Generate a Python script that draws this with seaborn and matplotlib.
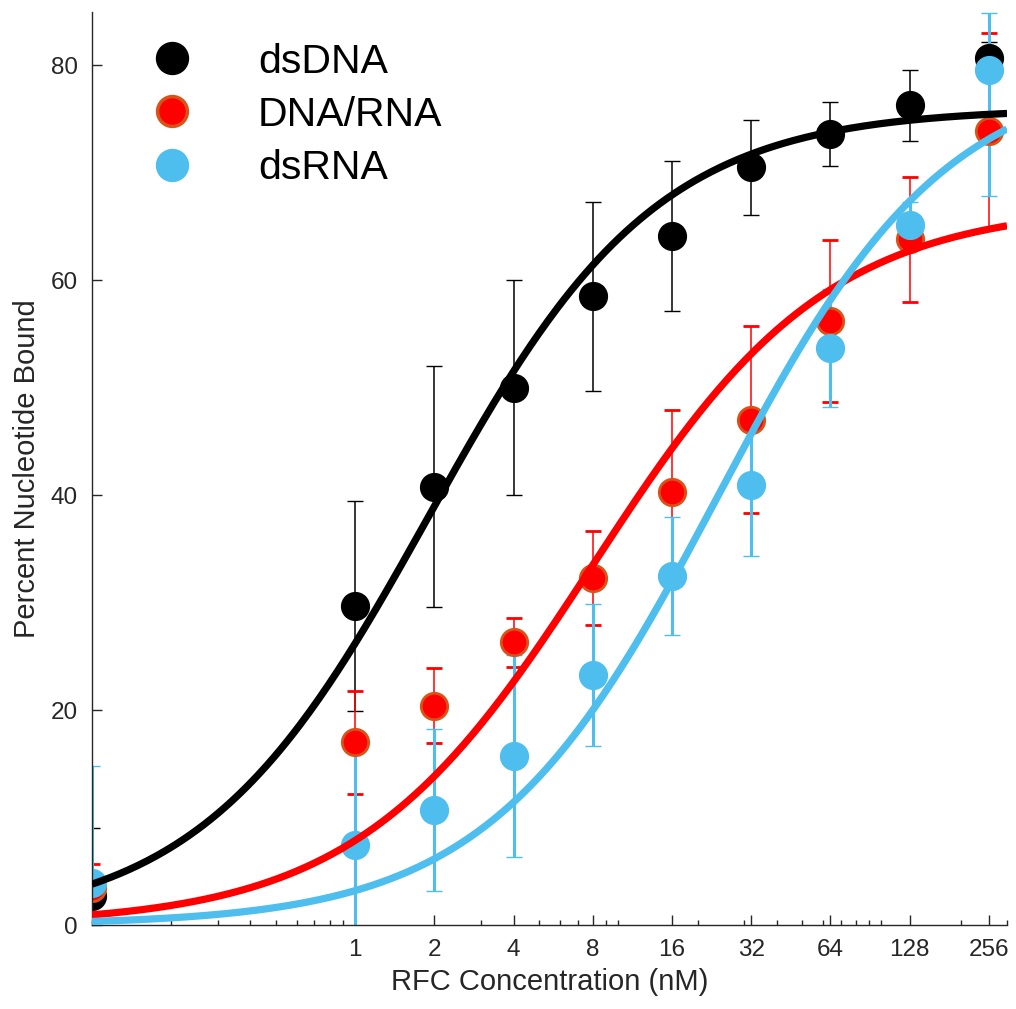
import numpy as np
import matplotlib
matplotlib.use("Agg")
import matplotlib.pyplot as plt
from matplotlib.lines import Line2D
from matplotlib.ticker import FixedLocator, FixedFormatter, LogLocator, NullFormatter
import seaborn as sns

# RFC titration; the no-protein control is drawn at the lower axis limit (0.1 nM)
conc_nM = [0.1, 1, 2, 4, 8, 16, 32, 64, 128, 256]
tick_values = [1, 2, 4, 8, 16, 32, 64, 128, 256]
tick_labels = ["1", "2", "4", "8", "16", "32", "64", "128", "256"]

dsdna_mean = [2.7, 29.7, 40.8, 50.0, 58.5, 64.1, 70.5, 73.6, 76.3, 80.7]
dsdna_err = [6.3, 9.8, 11.2, 10.0, 8.8, 7.0, 4.4, 3.0, 3.3, 1.5]

hybrid_mean = [3.4, 17.0, 20.4, 26.3, 32.3, 40.3, 47.0, 56.2, 63.8, 73.9]
hybrid_err = [2.3, 4.8, 3.5, 2.3, 4.4, 7.6, 8.7, 7.5, 5.8, 9.1]

dsrna_mean = [3.9, 7.4, 10.7, 15.7, 23.3, 32.5, 40.9, 53.7, 65.1, 79.6]
dsrna_err_lo = [10.9, 8.8, 7.5, 9.4, 6.6, 5.5, 6.6, 5.5, 2.2, 11.8]
dsrna_err_hi = [10.9, 8.8, 7.5, 9.4, 6.6, 5.5, 6.4, 5.5, 2.2, 5.3]

# Hill-fit parameters: (Bmax, K_half in nM, Hill coefficient)
dsdna_fit = (76.0, 1.9, 1.0)
hybrid_fit = (67.0, 8.0, 0.97)
dsrna_fit = (80.0, 24.0, 1.0)

labels = ["dsDNA", "DNA/RNA", "dsRNA"]
c_black = "#000000"
c_red = "#FF0000"
c_red_edge = "#D95319"
c_blue = "#4DBEEE"
txt = "#262626"

sns.set_theme(style="ticks")
plt.rcParams["font.family"] = ["Liberation Sans", "DejaVu Sans"]

fig = plt.figure(figsize=(10.16, 10.09), dpi=100)
ax = fig.add_axes([92 / 1016, 84 / 1009, 915 / 1016, 913.4 / 1009])
ax.set_xscale("log")

common = dict(fmt="o", capsize=6, zorder=2)
ax.errorbar(conc_nM, dsdna_mean, yerr=dsdna_err, color=c_black, ms=20,
            mfc=c_black, mec=c_black, mew=1, ecolor=c_black,
            elinewidth=1.1, capthick=2, **common)
ax.errorbar(conc_nM, hybrid_mean, yerr=hybrid_err, color=c_red, ms=19,
            mfc=c_red, mec=c_red_edge, mew=2, ecolor=c_red,
            elinewidth=1.1, capthick=2, **common)
ax.errorbar(conc_nM, dsrna_mean, yerr=[dsrna_err_lo, dsrna_err_hi],
            color=c_blue, ms=20, mfc=c_blue, mec=c_blue, mew=1,
            ecolor=c_blue, elinewidth=2.2, capthick=2.2, **common)

xs = np.geomspace(0.1, 300, 400)
for (bmax, k, n), col in zip([dsdna_fit, hybrid_fit, dsrna_fit],
                             [c_black, c_red, c_blue]):
    ys = bmax * xs ** n / (k ** n + xs ** n)
    sns.lineplot(x=xs, y=ys, color=col, linewidth=5.2, ax=ax, zorder=3,
                 solid_capstyle="butt")

ax.set_xlim(0.1, 300)
ax.set_ylim(0, 85)
ax.xaxis.set_major_locator(FixedLocator(tick_values))
ax.xaxis.set_major_formatter(FixedFormatter(tick_labels))
ax.xaxis.set_minor_locator(LogLocator(base=10, subs=np.arange(1, 10), numticks=20))
ax.xaxis.set_minor_formatter(NullFormatter())
ax.set_yticks([0, 20, 40, 60, 80])

for side in ["top", "right"]:
    ax.spines[side].set_visible(False)
for side in ["left", "bottom"]:
    ax.spines[side].set_color(txt)
    ax.spines[side].set_linewidth(1.0)

ax.tick_params(which="major", direction="in", length=7.2, width=1.0,
               color=txt, labelcolor=txt, labelsize=17.5, pad=10)
ax.tick_params(which="minor", direction="in", length=3.6, width=1.0,
               color=txt)

ax.set_xlabel("RFC Concentration (nM)", fontsize=21, color=txt, labelpad=5)
ax.set_ylabel("Percent Nucleotide Bound", fontsize=21, color=txt, labelpad=7)

handles = [
    Line2D([], [], ls="none", marker="o", ms=23, mfc=c_black, mec=c_black),
    Line2D([], [], ls="none", marker="o", ms=21.5, mfc=c_red, mec=c_red_edge, mew=2.5),
    Line2D([], [], ls="none", marker="o", ms=23, mfc=c_blue, mec=c_blue),
]
ax.legend(handles, labels, loc="upper left", bbox_to_anchor=(0.0426, 0.966),
          frameon=False, fontsize=29.5, labelcolor="black", handlelength=2,
          handletextpad=1.1, labelspacing=0.37, borderaxespad=0, borderpad=0)

fig.savefig("out.png", dpi=100)
